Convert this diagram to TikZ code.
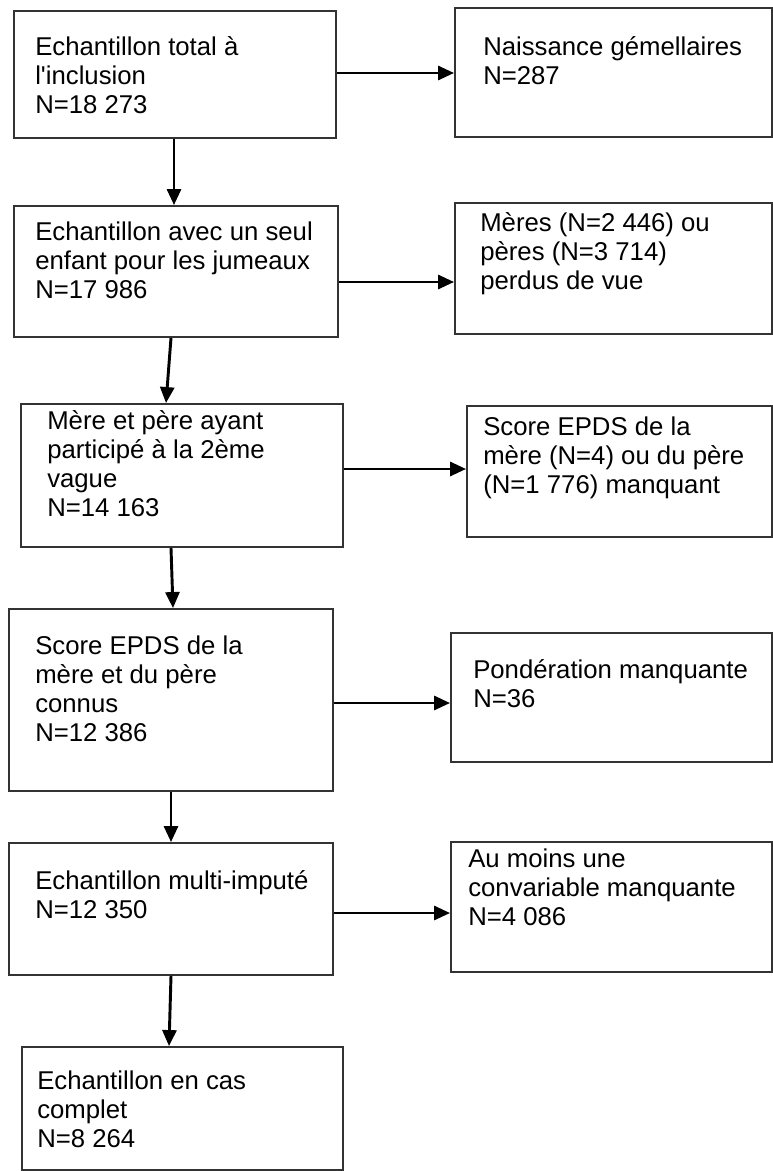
\documentclass[tikz,border=0pt]{standalone}
\usepackage{fontspec}
\setmainfont{Liberation Sans}
\usetikzlibrary{fit,arrows.meta}
\begin{document}
\begin{tikzpicture}[x=0.75pt,y=-0.75pt,
  box/.style={draw=black!80,line width=1.4pt,inner sep=0pt},
  txt/.style={anchor=base west,align=left,inner sep=0pt,font=\fontsize{19.3pt}{21.75pt}\selectfont},
  arr/.style={draw=black,line width=2.2pt,-{Triangle[length=12pt,width=10.5pt]}}]
\useasboundingbox (0,0) rectangle (773,1171);
% boxes
\node[box,fit={(14,11) (336,138)}] (b1) {};
\node[box,fit={(455,8) (772,137)}] (r1) {};
\node[box,fit={(14,206) (338,337)}] (b2) {};
\node[box,fit={(455,203) (772,334)}] (r2) {};
\node[box,fit={(21,404) (343,547)}] (b3) {};
\node[box,fit={(467,406) (772,537)}] (r3) {};
\node[box,fit={(9,609) (333,791)}] (b4) {};
\node[box,fit={(451,633) (772,762)}] (r4) {};
\node[box,fit={(9,843) (333,975)}] (b5) {};
\node[box,fit={(451,842) (772,972)}] (r5) {};
\node[box,fit={(22,1047) (343,1170)}] (b6) {};
% texts (anchored at the baseline of the last line)
\node[txt] (t1) at (35,113) {Echantillon total à\\l\textquotesingle inclusion\\N=18 273};
\node[txt] (s1) at (483,84.5) {Naissance gémellaires\\N=287};
\node[txt] (t2) at (35,298) {Echantillon avec un seul\\enfant pour les jumeaux\\N=17 986};
\node[txt] (s2) at (480,289) {Mères (N=2 446) ou\\pères (N=3 714)\\perdus de vue};
\node[txt] (t3) at (47,516) {Mère et père ayant\\participé à la 2ème\\vague\\N=14 163};
\node[txt] (s3) at (483,493.5) {Score EPDS de la\\mère (N=4) ou du père\\(N=1 776) manquant};
\node[txt] (t4) at (35,741) {Score EPDS de la\\mère et du père\\connus\\N=12 386};
\node[txt] (s4) at (473,707) {Pondération manquante\\N=36};
\node[txt] (t5) at (35,918.5) {Echantillon multi-imputé\\N=12 350};
\node[txt] (s5) at (468,925) {Au moins une\\convariable manquante\\N=4 086};
\node[txt] (t6) at (37,1147) {Echantillon en cas\\complet\\N=8 264};
% arrow levels
\coordinate (h1) at (0,73);
\coordinate (h2) at (0,282);
\coordinate (h3) at (0,469);
\coordinate (h4) at (0,703);
\coordinate (h5) at (0,913);
\coordinate (v1) at (174,0);
\coordinate (v2a) at (171,0);
\coordinate (v2b) at (166,0);
\coordinate (v3a) at (171,0);
\coordinate (v3b) at (173,0);
\coordinate (v4) at (171,0);
\coordinate (v5a) at (171,0);
\coordinate (v5b) at (169,0);
% horizontal arrows
\draw[arr] (b1.east |- h1) -- (r1.west |- h1);
\draw[arr] (b2.east |- h2) -- (r2.west |- h2);
\draw[arr] (b3.east |- h3) -- (r3.west |- h3);
\draw[arr] (b4.east |- h4) -- (r4.west |- h4);
\draw[arr] (b5.east |- h5) -- (r5.west |- h5);
% vertical arrows
\draw[arr] (b1.south -| v1) -- (b2.north -| v1);
\draw[arr] (b2.south -| v2a) -- (b3.north -| v2b);
\draw[arr] (b3.south -| v3a) -- (b4.north -| v3b);
\draw[arr] (b4.south -| v4) -- (b5.north -| v4);
\draw[arr] (b5.south -| v5a) -- (b6.north -| v5b);
\end{tikzpicture}
\end{document}
